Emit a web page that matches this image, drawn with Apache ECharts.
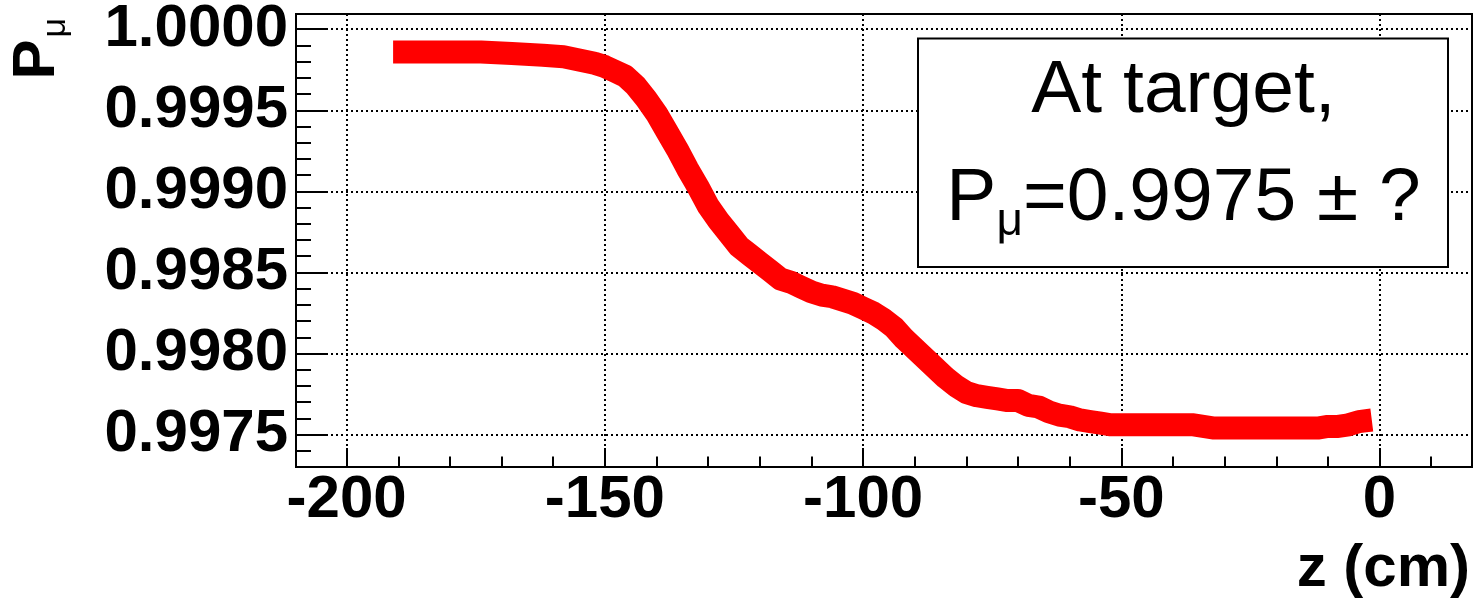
<!DOCTYPE html>
<html>
<head>
<meta charset="utf-8">
<script src="https://cdn.jsdelivr.net/npm/echarts@6/dist/echarts.min.js"></script>
<style>
html,body{margin:0;padding:0;background:#fff;}
#chart{width:1474px;height:603px;}
</style>
</head>
<body>
<div id="chart"></div>
<script>
// ---- data ----
const zValues = [-191, -185, -180, -174, -168, -162, -158, -155, -152, -150, -148, -146, -144, -142, -140, -138, -136, -134, -132, -130, -128, -126, -124, -122, -120, -118, -116, -114, -112, -110, -108, -106, -104, -102, -100, -98, -96, -94, -92, -90, -88, -86, -84, -82, -80, -78, -76, -74, -72, -70, -68, -66, -64, -62, -60, -58, -56, -54, -52, -48, -44, -40, -36, -32, -28, -24, -20, -16, -12, -10, -8, -6, -4, -1.5];
const pValues = [0.99986, 0.99986, 0.99986, 0.99986, 0.99985, 0.99984, 0.99983, 0.99981, 0.99979, 0.99977, 0.99974, 0.99971, 0.99965, 0.99957, 0.99948, 0.99937, 0.99926, 0.99914, 0.99903, 0.99891, 0.99882, 0.99874, 0.99866, 0.99861, 0.99856, 0.99851, 0.99846, 0.99844, 0.99841, 0.99838, 0.99836, 0.99835, 0.99833, 0.99831, 0.99828, 0.99825, 0.99821, 0.99816, 0.99809, 0.99803, 0.99797, 0.99791, 0.99785, 0.99780, 0.99776, 0.99774, 0.99773, 0.99772, 0.99771, 0.99771, 0.99768, 0.99767, 0.99764, 0.99762, 0.99761, 0.99759, 0.99758, 0.99757, 0.99756, 0.99756, 0.99756, 0.99756, 0.99756, 0.99754, 0.99754, 0.99754, 0.99754, 0.99754, 0.99754, 0.99755, 0.99755, 0.99756, 0.99758, 0.99759];
const xMajorTicks = [-200, -150, -100, -50, 0];
const xMinorTicks = [-200, -190, -180, -170, -160, -150, -140, -130, -120, -110, -100, -90, -80, -70, -60, -50, -40, -30, -20, -10, 0, 10];
const yMajorTicks = [0.9975, 0.9980, 0.9985, 0.9990, 0.9995, 1.0000];
const yMinorTicks = [0.9974, 0.9975, 0.9976, 0.9977, 0.9978, 0.9979, 0.9980, 0.9981, 0.9982, 0.9983, 0.9984, 0.9985, 0.9986, 0.9987, 0.9988, 0.9989, 0.9990, 0.9991, 0.9992, 0.9993, 0.9994, 0.9995, 0.9996, 0.9997, 0.9998, 0.9999, 1.0000];
const xRange = [-209.8, 17.9];
const yRange = [0.99730, 1.000094];
const xTitle = 'z (cm)';
const yTitleMain = 'P';
const yTitleSub = 'μ';
const boxLine1 = 'At target,';
const boxLine2Main = 'P';
const boxLine2Sub = 'μ';
const boxLine2Rest = '=0.9975 ± ?';

// ---- chart ----
const FF = '"Liberation Sans", Arial, Helvetica, sans-serif';
const chart = echarts.init(document.getElementById('chart'), null, {renderer: 'canvas'});

const ctx = document.createElement('canvas').getContext('2d');
function tw(t, f) { ctx.font = f; return ctx.measureText(t).width; }
const mainFont = '75px ' + FF;
const subFont = '46px ' + FF;
const wP = tw(boxLine2Main, mainFont);
const wMu = tw(boxLine2Sub, subFont);
const wRest = tw(boxLine2Rest, mainFont);
const boxCx = 1183.5;
const l2start = boxCx - (wP + wMu + wRest) / 2;

const tickStyle = {color: '#000', width: 2};
const gridLine = {show: true, lineStyle: {color: '#000', width: 2, type: [2, 3]}};

function txt(text, x, y, size, weight, align, rot) {
  return {
    type: 'text', x: x, y: y, rotation: rot || 0, z: 100,
    style: {
      text: text, fontSize: size, fontWeight: weight, fontFamily: FF, fill: '#000',
      align: align, verticalAlign: 'middle', textAlign: align, textVerticalAlign: 'middle'
    }
  };
}

chart.setOption({
  animation: false,
  backgroundColor: '#fff',
  grid: {
    left: 296, right: 2, top: 14, bottom: 136,
    show: true, borderColor: '#000', borderWidth: 2,
    containLabel: false, outerBoundsMode: 'none'
  },
  xAxis: [
    {
      type: 'value', min: xRange[0], max: xRange[1], position: 'bottom',
      axisLine: {show: true, onZero: false, lineStyle: {color: '#000', width: 2}},
      axisTick: {show: true, inside: true, length: 19, lineStyle: tickStyle, customValues: xMajorTicks},
      axisLabel: {
        customValues: xMajorTicks, margin: 33, verticalAlign: 'middle',
        fontSize: 60, fontWeight: 'bold', fontFamily: FF, color: '#000',
        formatter: v => String(v)
      },
      splitLine: gridLine
    },
    {
      type: 'value', min: xRange[0], max: xRange[1], position: 'bottom',
      axisLine: {show: false, onZero: false},
      axisTick: {show: true, inside: true, length: 10.5, lineStyle: tickStyle, customValues: xMinorTicks},
      axisLabel: {show: false},
      splitLine: {show: false}
    }
  ],
  yAxis: [
    {
      type: 'value', min: yRange[0], max: yRange[1], position: 'left',
      axisLine: {show: true, onZero: false, lineStyle: {color: '#000', width: 2}},
      axisTick: {show: true, inside: true, length: 30, lineStyle: tickStyle, customValues: yMajorTicks},
      axisLabel: {
        customValues: yMajorTicks, margin: 8, padding: [12, 0, 0, 0],
        fontSize: 60, fontWeight: 'bold', fontFamily: FF, color: '#000',
        formatter: v => v.toFixed(4)
      },
      splitLine: gridLine
    },
    {
      type: 'value', min: yRange[0], max: yRange[1], position: 'left',
      axisLine: {show: false, onZero: false},
      axisTick: {show: true, inside: true, length: 15, lineStyle: tickStyle, customValues: yMinorTicks},
      axisLabel: {show: false},
      splitLine: {show: false}
    }
  ],
  series: [{
    type: 'line',
    xAxisIndex: 0, yAxisIndex: 0,
    data: zValues.map((z, i) => [z, pValues[i]]),
    symbol: 'none', showSymbol: false, smooth: false,
    lineStyle: {color: '#ff0000', width: 23, cap: 'butt', join: 'round'},
    z: 3
  }],
  graphic: {
    elements: [
      {
        type: 'rect', z: 90,
        shape: {x: 918, y: 38.5, width: 530, height: 228.5},
        style: {fill: '#fff', stroke: '#000', lineWidth: 2}
      },
      txt(boxLine1, boxCx, 91, 75, 'normal', 'center'),
      txt(boxLine2Main, l2start, 199, 75, 'normal', 'left'),
      txt(boxLine2Sub, l2start + wP, 222, 46, 'normal', 'left'),
      txt(boxLine2Rest, l2start + wP + wMu, 199, 75, 'normal', 'left'),
      txt(xTitle, 1470, 569, 60, 'bold', 'right'),
      txt(yTitleMain, 37, 79.5, 60, 'bold', 'left', Math.PI / 2),
      txt(yTitleSub, 56, 37.5, 34, 'normal', 'left', Math.PI / 2)
    ]
  }
});
</script>
</body>
</html>
